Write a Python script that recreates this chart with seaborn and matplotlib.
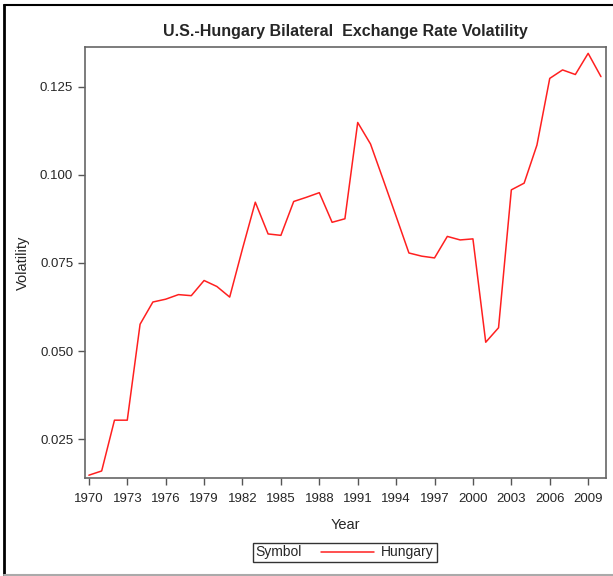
import seaborn as sns
import matplotlib.pyplot as plt
import matplotlib.lines as mlines
from matplotlib.offsetbox import HPacker
import pandas as pd

# data
years = list(range(1970, 2011))
volatility = [
    0.0148, 0.0160, 0.0304, 0.0304, 0.0576, 0.0639, 0.0647, 0.0660, 0.0657, 0.0700,
    0.0683, 0.0653, 0.0790, 0.0922, 0.0832, 0.0828, 0.0924, 0.0936, 0.0949, 0.0865,
    0.0875, 0.1148, 0.1087, 0.0985, 0.0882, 0.0778, 0.0769, 0.0764, 0.0825, 0.0815,
    0.0818, 0.0525, 0.0566, 0.0957, 0.0976, 0.1084, 0.1273, 0.1297, 0.1284, 0.1344,
    0.1278,
]
xticks = [1970, 1973, 1976, 1979, 1982, 1985, 1988, 1991, 1994, 1997, 2000, 2003, 2006, 2009]
yticks = [0.025, 0.050, 0.075, 0.100, 0.125]

df = pd.DataFrame({'Year': years, 'Volatility': volatility})

sns.set_style("white")
plt.rcParams['font.family'] = ['Liberation Sans Narrow', 'Liberation Sans', 'DejaVu Sans']

fig = plt.figure(figsize=(6.13, 5.76), dpi=100)
ax = fig.add_axes([0.1387, 0.1701, 0.85, 0.7483])

sns.lineplot(data=df, x='Year', y='Volatility', color='#ff2020', linewidth=1.1, ax=ax, legend=False)

ax.set_xlim(1969.7, 2010.4)
ax.set_ylim(0.0140, 0.1362)
ax.set_xticks(xticks)
ax.set_yticks(yticks)
ax.set_yticklabels([f'{v:.3f}' for v in yticks])
ax.tick_params(axis='both', direction='out', length=5, width=1, color='#555555',
               labelsize=9.5, bottom=True, left=True)
ax.tick_params(axis='x', pad=6)
for side in ax.spines.values():
    side.set_color('#666666')
    side.set_linewidth(1.2)

ax.set_title('U.S.-Hungary Bilateral  Exchange Rate Volatility', fontsize=11.5,
             fontweight='bold', pad=8)
ax.set_xlabel('Year', fontsize=10.5, labelpad=9)
ax.set_ylabel('Volatility', fontsize=10.5)
ax.yaxis.set_label_coords(-0.106, 0.5)

# legend: "Symbol" title sitting inline with the entry, inside a plain box
handle = mlines.Line2D([], [], color='#ff2020', linewidth=1.1)
leg = fig.legend([handle], ['Hungary'], title='Symbol', loc='center',
                 bbox_to_anchor=(0.5625, 0.041), fontsize=10,
                 title_fontsize=10, frameon=True, fancybox=False,
                 handlelength=3.8, borderpad=0.2, handletextpad=0.5)
leg.get_frame().set_edgecolor('black')
leg.get_frame().set_linewidth(1)
leg._legend_box.__class__ = HPacker
leg._legend_box.sep = 14

# outer frame of the original export
fig.add_artist(mlines.Line2D([0.007, 0.007], [0, 0.991], color='black', linewidth=2, transform=fig.transFigure))
fig.add_artist(mlines.Line2D([0.007, 1.0], [0.991, 0.991], color='black', linewidth=1.5, transform=fig.transFigure))
fig.add_artist(mlines.Line2D([0.007, 1.0], [0.002, 0.002], color='#aaaaaa', linewidth=1.5, transform=fig.transFigure))

plt.savefig('out.png', dpi=100)
